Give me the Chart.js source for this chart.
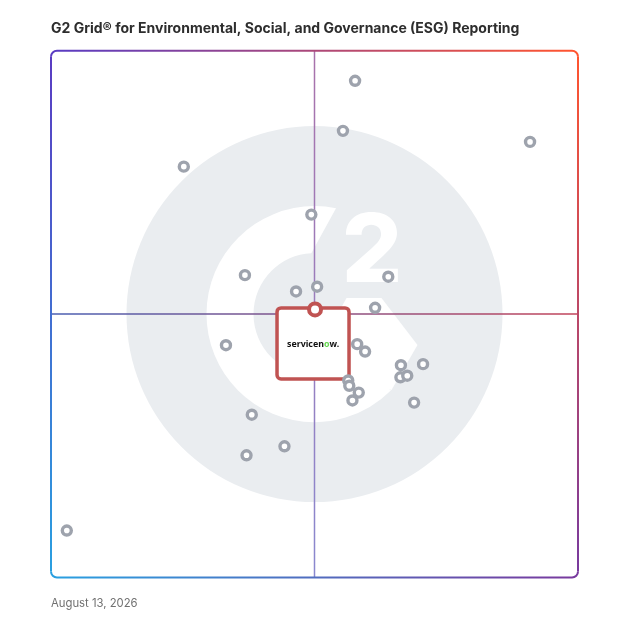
<!DOCTYPE html>
<html>
<head>
<meta charset="utf-8">
<title>G2 Grid - ESG Reporting</title>
<script src="https://cdn.jsdelivr.net/npm/chart.js@4.4.1/dist/chart.umd.min.js"></script>
<style>
    html, body { margin: 0; padding: 0; background: #ffffff; }
    #wrap { width: 628px; height: 628px; }
</style>
</head>
<body>
<div id="wrap"><canvas id="g2Grid" width="628" height="628"></canvas></div>
<script>
const chartTitle = "G2 Grid® for Environmental, Social, and Governance (ESG) Reporting";
const reportDate = "August 13, 2026";

// grid runs 0..100 on both axes, quadrant split at 50
const axisMin = 0;
const axisMax = 100;
const splitValue = 50;

// other products (grey rings)
const productX = [57.7, 55.4, 90.9, 25.2, 49.4, 36.8, 64.0, 46.5, 50.5, 61.5, 33.2, 58.1, 59.6, 66.4, 70.6, 66.3, 67.6, 56.4, 56.6, 58.4, 57.2, 68.9, 38.1, 44.3, 37.1, 3.0];
const productY = [94.3, 84.8, 82.7, 78.0, 68.9, 57.4, 57.1, 54.3, 55.2, 51.2, 44.1, 44.3, 42.9, 40.3, 40.5, 38.0, 38.3, 37.4, 36.4, 35.1, 33.6, 33.2, 30.9, 24.9, 23.2, 8.9];

// highlighted product
const highlightName = ["servicen", "o", "w."];
const highlightX = [50.1];
const highlightY = [50.9];

const productPoints = productX.map((x, i) => ({ x: x, y: productY[i] }));
const highlightPoints = highlightX.map((x, i) => ({ x: x, y: highlightY[i] }));

// big grey G2 mark behind the points
const g2Watermark = {
    id: 'g2Watermark',
    beforeDatasetsDraw(chart) {
        const ctx = chart.ctx;
        const a = chart.chartArea;
        const cx = (a.left + a.right) / 2;
        const cy = (a.top + a.bottom) / 2;
        const u = (a.right - a.left) / 527;
        const deg = Math.PI / 180;

        ctx.save();
        ctx.fillStyle = '#eaedf0';
        ctx.beginPath();
        ctx.arc(cx, cy, 188 * u, 0, Math.PI * 2);
        ctx.fill();

        // the "G" ring
        ctx.fillStyle = '#ffffff';
        ctx.beginPath();
        ctx.arc(cx, cy, 108 * u, -78.5 * deg, 45 * deg, true);
        ctx.arc(cx, cy, 61 * u, 45 * deg, -93 * deg, false);
        ctx.closePath();
        ctx.fill();

        // chevron bar of the G
        const chev = [[32, -16], [67, -16], [103, 31], [77, 76], [35, 61], [20, 6]];
        ctx.beginPath();
        chev.forEach((p, i) => {
            if (i === 0) ctx.moveTo(cx + p[0] * u, cy + p[1] * u);
            else ctx.lineTo(cx + p[0] * u, cy + p[1] * u);
        });
        ctx.closePath();
        ctx.fill();

        // the "2"
        ctx.font = `800 ${95 * u}px Inter`;
        ctx.textAlign = 'center';
        ctx.textBaseline = 'alphabetic';
        ctx.fillText('2', cx + 57.5 * u, cy - 32 * u);
        ctx.restore();
    }
};

function gradEdge(ctx, x1, y1, x2, y2, c1, c2) {
    const g = ctx.createLinearGradient(x1, y1, x2, y2);
    g.addColorStop(0, c1);
    g.addColorStop(1, c2);
    ctx.strokeStyle = g;
    ctx.beginPath();
    ctx.moveTo(x1, y1);
    ctx.lineTo(x2, y2);
    ctx.stroke();
}

function cornerArc(ctx, x, y, r, s, e, c) {
    ctx.strokeStyle = c;
    ctx.beginPath();
    ctx.arc(x, y, r, s, e);
    ctx.stroke();
}

// gradient frame + quadrant lines
const g2Frame = {
    id: 'g2Frame',
    beforeDatasetsDraw(chart) {
        const ctx = chart.ctx;
        const a = chart.chartArea;
        const L = a.left, R = a.right, T = a.top, B = a.bottom;
        const r = 6;
        const tl = '#5a3cc2', tr = '#ff5530', bl = '#2a9fe0', br = '#783a9e';
        const midX = chart.scales.x.getPixelForValue(splitValue);
        const midY = chart.scales.y.getPixelForValue(splitValue);

        ctx.save();
        ctx.lineWidth = 1.5;
        gradEdge(ctx, midX, T, midX, B, '#a972ab', '#8a88cf');
        gradEdge(ctx, L, midY, R, midY, '#4a5fb2', '#c2445a');

        ctx.lineWidth = 2;
        gradEdge(ctx, L + r, T, R - r, T, tl, tr);
        gradEdge(ctx, R, T + r, R, B - r, tr, br);
        gradEdge(ctx, L + r, B, R - r, B, bl, br);
        gradEdge(ctx, L, T + r, L, B - r, tl, bl);
        cornerArc(ctx, L + r, T + r, r, Math.PI, Math.PI * 1.5, tl);
        cornerArc(ctx, R - r, T + r, r, Math.PI * 1.5, Math.PI * 2, tr);
        cornerArc(ctx, R - r, B - r, r, 0, Math.PI * 0.5, br);
        cornerArc(ctx, L + r, B - r, r, Math.PI * 0.5, Math.PI, bl);
        ctx.restore();
    }
};

// logo card hanging under the highlighted point
const g2Card = {
    id: 'g2Card',
    beforeDatasetsDraw(chart) {
        const meta = chart.getDatasetMeta(0);
        if (!meta.data.length) return;
        const p = meta.data[0];
        const ctx = chart.ctx;
        const u = (chart.chartArea.right - chart.chartArea.left) / 527;
        const x = p.x - 38 * u, y = p.y - 1.5 * u, w = 72 * u, h = 71 * u;

        ctx.save();
        ctx.fillStyle = '#ffffff';
        ctx.strokeStyle = '#c05352';
        ctx.lineWidth = 3.5;
        ctx.beginPath();
        ctx.roundRect(x, y, w, h, 4);
        ctx.fill();
        ctx.stroke();

        // fit the wordmark to ~52px
        ctx.font = '700 10px "Noto Sans"';
        const full = ctx.measureText(highlightName.join('')).width;
        const size = 10 * (52 * u) / full;
        ctx.font = `700 ${size}px "Noto Sans"`;
        ctx.textBaseline = 'middle';
        ctx.textAlign = 'left';
        let tx = x + w / 2 - (52 * u) / 2;
        const ty = y + h / 2 + 1;
        const colors = ['#111111', '#62d84e', '#111111'];
        highlightName.forEach((part, i) => {
            ctx.fillStyle = colors[i];
            ctx.fillText(part, tx, ty);
            tx += ctx.measureText(part).width;
        });
        ctx.restore();
    }
};

const ctx = document.getElementById('g2Grid').getContext('2d');
new Chart(ctx, {
    type: 'scatter',
    data: {
        datasets: [{
            label: 'ServiceNow',
            data: highlightPoints,
            order: 0,
            pointRadius: 6,
            pointBorderWidth: 4,
            pointBorderColor: '#c05352',
            pointBackgroundColor: '#ffffff',
            clip: false
        }, {
            label: 'Products',
            data: productPoints,
            order: 1,
            pointRadius: 4.5,
            pointBorderWidth: 3.4,
            pointBorderColor: '#9ea3ad',
            pointBackgroundColor: '#ffffff',
            clip: false
        }]
    },
    options: {
        responsive: false,
        animation: false,
        events: [],
        layout: {
            padding: { left: 51, right: 50, top: 0, bottom: 0 }
        },
        scales: {
            x: { type: 'linear', min: axisMin, max: axisMax, display: false },
            y: { type: 'linear', min: axisMin, max: axisMax, display: false }
        },
        plugins: {
            legend: { display: false },
            tooltip: { enabled: false },
            title: {
                display: true,
                text: chartTitle,
                align: 'start',
                color: '#2d2d2d',
                font: { family: 'Inter', size: 14, weight: '700' },
                padding: { top: 20, bottom: 14 }
            },
            subtitle: {
                display: true,
                text: reportDate,
                position: 'bottom',
                align: 'start',
                color: '#707070',
                font: { family: 'Inter', size: 11.3, weight: '400' },
                padding: { top: 19, bottom: 18 }
            }
        }
    },
    plugins: [g2Watermark, g2Frame, g2Card]
});
</script>
</body>
</html>
